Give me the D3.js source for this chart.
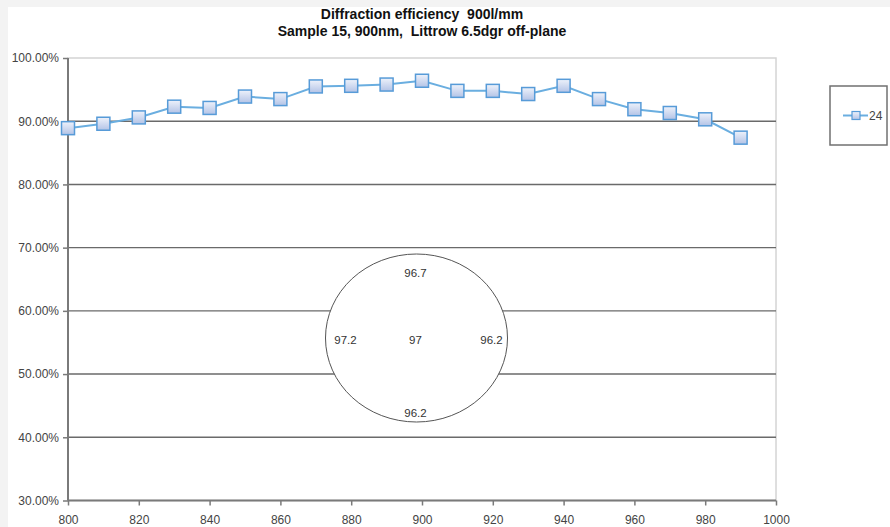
<!DOCTYPE html>
<html>
<head>
<meta charset="utf-8">
<script src="https://cdn.jsdelivr.net/npm/d3@7"></script>
<style>
  html, body { margin: 0; padding: 0; background: #f3f3f3; }
  svg { display: block; }
</style>
</head>
<body>
<svg id="chart" width="890" height="527"></svg>
<script>
// Wavelength (nm) and measured diffraction efficiency (%) for series "24"
const wavelengths = [800, 810, 820, 830, 840, 850, 860, 870, 880, 890, 900, 910, 920, 930, 940, 950, 960, 970, 980, 990];
const efficiency  = [88.9, 89.6, 90.6, 92.3, 92.1, 93.9, 93.5, 95.5, 95.6, 95.8, 96.4, 94.8, 94.8, 94.3, 95.6, 93.5, 91.9, 91.3, 90.3, 87.4];
const seriesName = "24";

const xTicks = [800, 820, 840, 860, 880, 900, 920, 940, 960, 980, 1000];
const yTicks = [30, 40, 50, 60, 70, 80, 90, 100];

// Spot readings across the sample: top, left, centre, right, bottom
const spotPositions = ["top", "left", "centre", "right", "bottom"];
const spotValues = [96.7, 97.2, 97, 96.2, 96.2];

const titleLines = ["Diffraction efficiency  900l/mm", "Sample 15, 900nm,  Littrow 6.5dgr off-plane"];

const svg = d3.select("#chart");
const W = 890, H = 527;
const FONT = "'Liberation Sans', Arial, sans-serif";

// white chart sheet
svg.append("rect").attr("x", 8).attr("y", 7).attr("width", W - 8).attr("height", H - 7).attr("fill", "#ffffff");

const plot = { left: 68, right: 776, top: 58, bottom: 500.5 };
const x = d3.scaleLinear().domain([800, 1000]).range([plot.left, plot.right]);
const y = d3.scaleLinear().domain([30, 100]).range([plot.bottom, plot.top]);

const defs = svg.append("defs");
const grad = defs.append("linearGradient").attr("id", "mk").attr("x1", 0).attr("y1", 0).attr("x2", 0).attr("y2", 1);
grad.append("stop").attr("offset", "0%").attr("stop-color", "#eef2fb");
grad.append("stop").attr("offset", "100%").attr("stop-color", "#b3c3e6");

// plot frame (light)
svg.append("rect")
  .attr("x", plot.left).attr("y", plot.top)
  .attr("width", plot.right - plot.left).attr("height", plot.bottom - plot.top)
  .attr("fill", "none").attr("stroke", "#d4d4d4").attr("stroke-width", 1.5);

// gridlines
svg.append("g").selectAll("line")
  .data(yTicks.filter(v => v > 30 && v < 100))
  .join("line")
  .attr("x1", plot.left).attr("x2", plot.right)
  .attr("y1", d => y(d)).attr("y2", d => y(d))
  .attr("stroke", "#6a6a6a").attr("stroke-width", 1.4);

// axes
const fmtPct = d => d.toFixed(2) + "%";
const yAxis = svg.append("g")
  .attr("transform", `translate(${plot.left},0)`)
  .call(d3.axisLeft(y).tickValues(yTicks).tickFormat(fmtPct).tickSize(5).tickPadding(4));
const xAxis = svg.append("g")
  .attr("transform", `translate(0,${plot.bottom})`)
  .call(d3.axisBottom(x).tickValues(xTicks).tickFormat(d3.format("d")).tickSize(5).tickPadding(10));

[yAxis, xAxis].forEach(g => {
  g.select(".domain").attr("stroke", "#7a7a7a").attr("stroke-width", 2);
  g.selectAll(".tick line").attr("stroke", "#7a7a7a").attr("stroke-width", 1.5);
  g.selectAll(".tick text")
    .attr("fill", "#444")
    .style("font-family", FONT)
    .style("font-size", "12px");
});
// remove outer tick caps from the domain paths
yAxis.select(".domain").attr("d", `M0,${plot.top}V${plot.bottom}`);
xAxis.select(".domain").attr("d", `M${plot.left},0H${plot.right}`);

// series line
const pts = wavelengths.map((w, i) => ({ w, v: efficiency[i] }));
svg.append("path")
  .datum(pts)
  .attr("fill", "none")
  .attr("stroke", "#6aaee0")
  .attr("stroke-width", 2)
  .attr("d", d3.line().x(d => x(d.w)).y(d => y(d.v)));

// markers
const ms = 13;
svg.append("g").selectAll("rect")
  .data(pts)
  .join("rect")
  .attr("x", d => x(d.w) - ms / 2).attr("y", d => y(d.v) - ms / 2)
  .attr("width", ms).attr("height", ms)
  .attr("fill", "url(#mk)")
  .attr("stroke", "#579bd8").attr("stroke-width", 1.5);

// title
svg.append("g").selectAll("text")
  .data(titleLines)
  .join("text")
  .attr("x", 422).attr("y", (d, i) => 19 + i * 17)
  .attr("text-anchor", "middle")
  .style("white-space", "pre")
  .style("font-family", FONT)
  .style("font-size", "14px").style("font-weight", "bold")
  .attr("fill", "#111")
  .text(d => d);

// legend
const lg = svg.append("g");
lg.append("rect").attr("x", 830).attr("y", 86).attr("width", 57).attr("height", 59)
  .attr("fill", "#fff").attr("stroke", "#707070").attr("stroke-width", 1.5);
lg.append("line").attr("x1", 843).attr("x2", 868).attr("y1", 115.5).attr("y2", 115.5)
  .attr("stroke", "#6aaee0").attr("stroke-width", 2);
lg.append("rect").attr("x", 852).attr("y", 111.5).attr("width", 8).attr("height", 8)
  .attr("fill", "url(#mk)").attr("stroke", "#579bd8").attr("stroke-width", 1.2);
lg.append("text").attr("x", 869).attr("y", 120)
  .style("font-family", FONT).style("font-size", "12px")
  .attr("fill", "#444").text(seriesName);

// sample map: ellipse with spot readings
const cx = 416.5, cy = 338, rx = 91, ry = 84;
svg.append("ellipse").attr("cx", cx).attr("cy", cy).attr("rx", rx).attr("ry", ry)
  .attr("fill", "#fff").attr("stroke", "#555").attr("stroke-width", 1);
const offsets = {
  top: [-1, -65], left: [-71, 2], centre: [-1, 2], right: [75, 2], bottom: [-1, 75]
};
svg.append("g").selectAll("text")
  .data(spotPositions.map((p, i) => ({ p, v: spotValues[i] })))
  .join("text")
  .attr("x", d => cx + offsets[d.p][0])
  .attr("y", d => cy + offsets[d.p][1] + 4)
  .attr("text-anchor", "middle")
  .style("font-family", FONT).style("font-size", "11.5px")
  .attr("fill", "#333")
  .text(d => String(d.v));
</script>
</body>
</html>
